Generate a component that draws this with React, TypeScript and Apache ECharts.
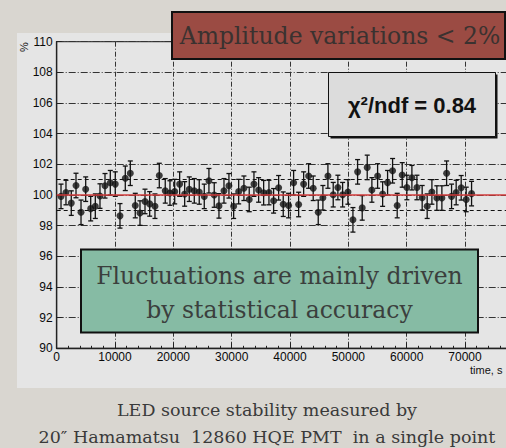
import React, { useEffect, useRef } from "react";
import * as echarts from "echarts";

// Measurement times (s) and relative amplitude (%) of the LED source
const TIMES = [
  740, 1590, 2500, 3310, 4170, 4970, 5830, 6620, 7420, 8280,
  9190, 10040, 10850, 11760, 12620, 13470, 14280, 15140, 15940, 16850,
  17590, 18610, 19420, 20230, 21080, 21940, 22730, 23590, 24440, 25300,
  26100, 27010, 27820, 28680, 29530, 30340, 31200, 32100, 33010, 33820,
  34620, 35480, 36390, 37190, 38050, 38840, 39760, 40620, 41480, 42340,
  43190, 43980, 44840, 45640, 46500, 47410, 48210, 49020, 49930, 50790,
  51590, 52380, 53240, 54040, 55020, 55880, 56730, 57590, 58380, 59240,
  60040, 60900, 61760, 62660, 63520, 64330, 65180, 66040, 66850, 67700,
  68490, 69350, 70210, 71130,
];
const AMPLITUDES = [
  99.91, 100.16, 99.47, 100.62, 98.87, 100.38, 99.11, 99.27, 99.93, 100.6,
  100.8, 100.71, 98.64, 101.09, 101.42, 99.31, 98.82, 99.58, 99.42, 99.27,
  101.27, 100.27, 100.13, 100.22, 100.71, 100.07, 100.38, 100.27, 100.2, 99.91,
  100.93, 100.0, 99.29, 100.27, 100.6, 99.27, 100.22, 100.44, 99.71, 100.71,
  100.33, 100.15, 100.16, 99.62, 100.47, 99.4, 99.31, 100.8, 99.38, 100.71,
  101.24, 100.44, 98.87, 99.82, 101.24, 100.02, 100.49, 100.02, 100.2, 98.38,
  101.51, 99.16, 101.8, 100.33, 101.24, 100.06, 100.8, 101.58, 99.31, 101.31,
  100.49, 101.13, 100.49, 99.82, 99.27, 100.2, 99.8, 99.8, 101.42, 99.91,
  100.16, 100.47, 99.71, 100.09,
];
// Statistical uncertainty of each point (%)
const ERROR = 0.8;
// Fitted constant and the +/-1 % band
const FIT_LEVEL = 100;
const BAND = [99, 101];

const SERIF = "DejaVu Serif";
const SANS = "Liberation Sans";

export default function App() {
  const ref = useRef<HTMLDivElement>(null);

  useEffect(() => {
    if (!ref.current) return;
    const chart = echarts.init(ref.current, undefined, { renderer: "svg" });
    const points = TIMES.map((t, i) => [t, AMPLITUDES[i], ERROR]);

    chart.setOption({
      animation: false,
      backgroundColor: "#d9d6d0",
      grid: {
        left: 56.7,
        top: 41.7,
        right: -17.3,
        bottom: 99.7,
        outerBoundsMode: "none",
        containLabel: false,
        show: true,
        backgroundColor: "transparent",
        borderColor: "#444",
        borderWidth: 1.2,
      },
      xAxis: {
        type: "value",
        min: 0,
        max: 80000,
        interval: 10000,
        axisLine: { show: true, onZero: false, lineStyle: { color: "#222", width: 1.3 } },
        axisTick: { show: true, inside: true, length: 5, lineStyle: { color: "#222", width: 1 } },
        minorTick: { show: true, splitNumber: 5, length: 2.5, lineStyle: { color: "#222", width: 1 } },
        splitLine: { show: true, lineStyle: { color: "#333", width: 1, type: [5, 2, 1, 2] } },
        axisLabel: {
          color: "#0a0a0a",
          fontSize: 12,
          fontFamily: SANS,
          margin: 3,
          formatter: (v: number) => (v >= 80000 ? "" : String(v)),
        },
      },
      yAxis: {
        type: "value",
        min: 90,
        max: 110,
        interval: 2,
        axisLine: { show: true, onZero: false, lineStyle: { color: "#222", width: 1.3 } },
        axisTick: { show: true, inside: true, length: 5, lineStyle: { color: "#222", width: 1 } },
        splitLine: { show: true, lineStyle: { color: "#333", width: 1, type: [7, 2, 1, 2] } },
        axisLabel: { color: "#0a0a0a", fontSize: 12, fontFamily: SANS, margin: 4 },
      },
      series: [
        {
          type: "custom",
          z: 3,
          data: points,
          renderItem: (params: any, api: any) => {
            const x = api.value(0);
            const y = api.value(1);
            const e = api.value(2);
            const hi = api.coord([x, y + e]);
            const lo = api.coord([x, y - e]);
            const cap = 2.5;
            const st = { stroke: "#111", lineWidth: 1.3 };
            return {
              type: "group",
              children: [
                { type: "line", shape: { x1: hi[0], y1: hi[1], x2: lo[0], y2: lo[1] }, style: st },
                { type: "line", shape: { x1: hi[0] - cap, y1: hi[1], x2: hi[0] + cap, y2: hi[1] }, style: st },
                { type: "line", shape: { x1: lo[0] - cap, y1: lo[1], x2: lo[0] + cap, y2: lo[1] }, style: st },
              ],
            };
          },
        },
        {
          type: "scatter",
          z: 4,
          symbol: "circle",
          symbolSize: 7,
          itemStyle: { color: "#111" },
          data: points.map((p) => [p[0], p[1]]),
          markLine: {
            silent: true,
            symbol: "none",
            label: { show: false },
            data: [
              { yAxis: FIT_LEVEL, lineStyle: { color: "#d23b3b", width: 1.5, type: "solid" } },
              { yAxis: BAND[0], lineStyle: { color: "#111", width: 1, type: [4, 3] } },
              { yAxis: BAND[1], lineStyle: { color: "#111", width: 1, type: [4, 3] } },
            ],
          },
        },
      ],
      graphic: [
        // light panel behind the plot
        { type: "rect", z: -10, shape: { x: 17, y: 33, width: 500, height: 355 }, style: { fill: "#e5e5e5" } },
        {
          type: "text",
          x: 24,
          y: 47,
          rotation: Math.PI / 2,
          style: { text: "%", fill: "#111", font: `11px ${SANS}`, align: "center", verticalAlign: "middle" },
        },
        {
          type: "text",
          x: 470,
          y: 370,
          style: { text: "time, s", fill: "#111", font: `11px ${SANS}`, align: "left", verticalAlign: "middle" },
        },
        // headline box
        {
          type: "rect",
          z: 100,
          shape: { x: 172, y: 12, width: 333, height: 47 },
          style: { fill: "#9b4b43", stroke: "#111", lineWidth: 2 },
        },
        {
          type: "text",
          z: 101,
          x: 340,
          y: 36,
          style: {
            text: "Amplitude variations < 2%",
            fill: "#3a3230",
            font: `23.5px ${SERIF}`,
            align: "center",
            verticalAlign: "middle",
          },
        },
        // fit quality box with shadow
        {
          type: "rect",
          z: 99,
          shape: { x: 330.5, y: 74.5, width: 167, height: 64 },
          style: { fill: "#111" },
        },
        {
          type: "rect",
          z: 100,
          shape: { x: 328.5, y: 72.5, width: 167, height: 64 },
          style: { fill: "#dcdcdc", stroke: "#111", lineWidth: 1 },
        },
        {
          type: "text",
          z: 101,
          x: 412,
          y: 105,
          style: {
            text: "χ²/ndf = 0.84",
            fill: "#111",
            font: `bold 22px ${SANS}`,
            align: "center",
            verticalAlign: "middle",
          },
        },
        // conclusion box
        {
          type: "rect",
          z: 100,
          shape: { x: 81, y: 249.5, width: 397, height: 83 },
          style: { fill: "#86bba4", stroke: "#111", lineWidth: 2 },
        },
        {
          type: "text",
          z: 101,
          x: 279.5,
          y: 276,
          style: {
            text: "Fluctuations are mainly driven",
            fill: "#3b3f3d",
            font: `23.5px ${SERIF}`,
            align: "center",
            verticalAlign: "middle",
          },
        },
        {
          type: "text",
          z: 101,
          x: 279.5,
          y: 310,
          style: {
            text: "by statistical accuracy",
            fill: "#3b3f3d",
            font: `23.5px ${SERIF}`,
            align: "center",
            verticalAlign: "middle",
          },
        },
        // caption
        {
          type: "text",
          x: 267,
          y: 410,
          style: {
            text: "LED source stability measured by",
            fill: "#3a3a3a",
            font: `17.5px ${SERIF}`,
            align: "center",
            verticalAlign: "middle",
          },
        },
        {
          type: "text",
          x: 267,
          y: 437,
          style: {
            text: "20″ Hamamatsu  12860 HQE PMT  in a single point",
            fill: "#3a3a3a",
            font: `17.5px ${SERIF}`,
            align: "center",
            verticalAlign: "middle",
          },
        },
      ],
    });

    return () => chart.dispose();
  }, []);

  return (
    <div
      ref={ref}
      style={{ position: "fixed", left: 0, top: 0, width: 506, height: 448 }}
    />
  );
}
